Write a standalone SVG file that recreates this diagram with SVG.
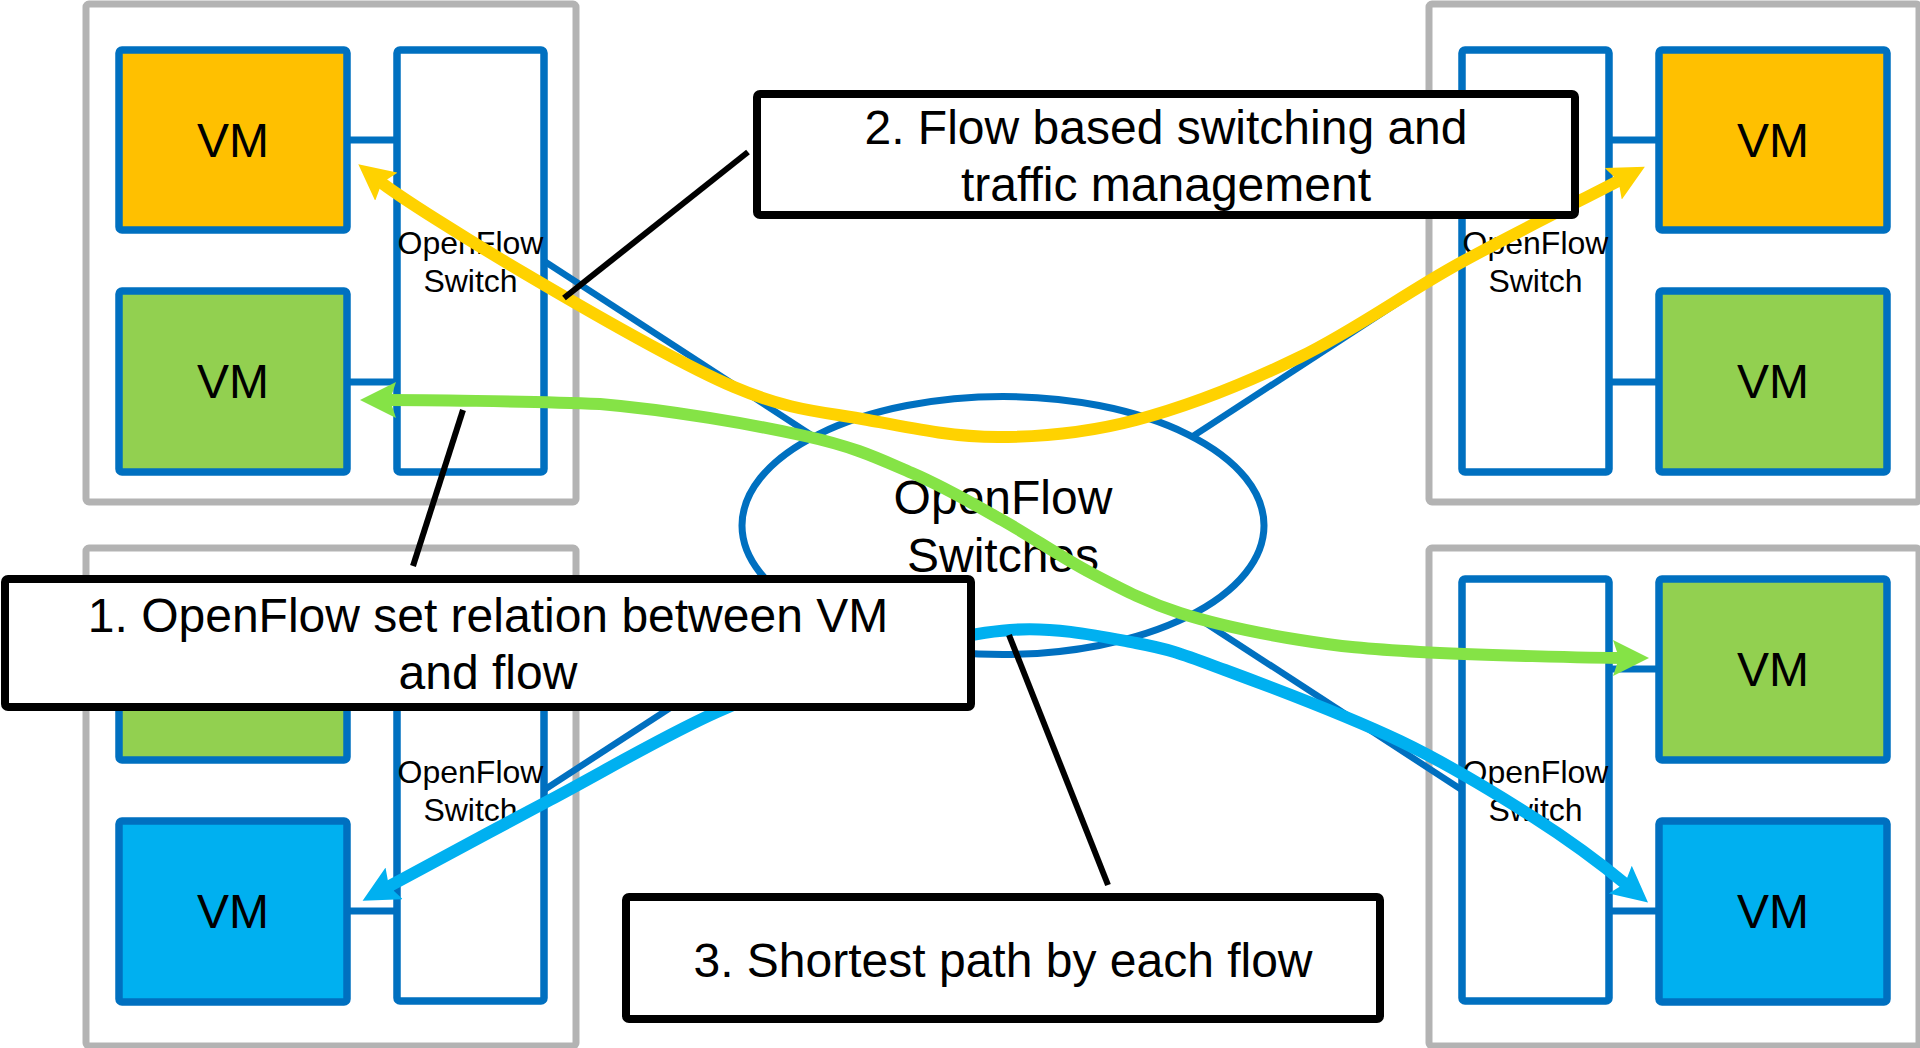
<svg xmlns="http://www.w3.org/2000/svg" width="1920" height="1048" viewBox="0 0 1920 1048">
  <style>
    .host { fill: #ffffff; stroke: #b3b3b3; stroke-width: 7; }
    .vm { stroke: #0070c0; stroke-width: 7.5; }
    .vm-orange { fill: #ffc000; }
    .vm-green { fill: #92d050; }
    .vm-blue { fill: #00b0f0; }
    .switch { fill: #ffffff; stroke: #0070c0; stroke-width: 7.5; }
    .link { stroke: #0070c0; stroke-width: 7; fill: none; }
    .trunk { stroke: #0070c0; stroke-width: 6.5; fill: none; }
    .cloud { fill: #ffffff; stroke: #0070c0; stroke-width: 7; }
    .flow { fill: none; stroke-width: 12; }
    .leader { stroke: #000000; stroke-width: 6; fill: none; }
    .callout { fill: #ffffff; stroke: #000000; stroke-width: 8; }
    text { font-family: "Liberation Sans", Arial, sans-serif; fill: #000000; text-anchor: middle; }
    .vm-label { font-size: 48px; }
    .sw-label { font-size: 32px; }
    .big { font-size: 48px; }
  </style>
  <defs>
    <marker id="head-yellow" viewBox="0 0 36 36" markerWidth="36" markerHeight="36" refX="10" refY="18" orient="auto-start-reverse" markerUnits="userSpaceOnUse">
      <path d="M0,0 L36,18 L0,36 L6,18 Z" fill="#ffd200"/>
    </marker>
    <marker id="head-green" viewBox="0 0 36 36" markerWidth="36" markerHeight="36" refX="10" refY="18" orient="auto-start-reverse" markerUnits="userSpaceOnUse">
      <path d="M0,0 L36,18 L0,36 L6,18 Z" fill="#85e346"/>
    </marker>
    <marker id="head-cyan" viewBox="0 0 36 36" markerWidth="36" markerHeight="36" refX="10" refY="18" orient="auto-start-reverse" markerUnits="userSpaceOnUse">
      <path d="M0,0 L36,18 L0,36 L6,18 Z" fill="#00b0f0"/>
    </marker>
  </defs>

  <rect width="1920" height="1048" fill="#ffffff"/>

  <!-- Host, top left -->
  <g id="host-top-left">
    <rect class="host" x="86" y="4" width="490" height="498" rx="3"/>
    <line class="link" x1="347" y1="140" x2="397" y2="140"/>
    <line class="link" x1="347" y1="382" x2="397" y2="382"/>
    <g id="vm-tl-1"><rect class="vm vm-orange" x="119" y="50" width="228" height="180" rx="3"/><text class="vm-label" x="233" y="157">VM</text></g>
    <g id="vm-tl-2"><rect class="vm vm-green" x="119" y="291" width="228" height="181" rx="3"/><text class="vm-label" x="233" y="398">VM</text></g>
    <g id="switch-tl"><rect class="switch" x="397" y="50" width="147" height="422" rx="3"/><text class="sw-label" x="470.5" y="254">OpenFlow</text><text class="sw-label" x="470.5" y="292">Switch</text></g>
  </g>

  <!-- Host, top right -->
  <g id="host-top-right">
    <rect class="host" x="1429" y="4" width="490" height="498" rx="3"/>
    <line class="link" x1="1609" y1="140" x2="1659" y2="140"/>
    <line class="link" x1="1609" y1="382" x2="1659" y2="382"/>
    <g id="switch-tr"><rect class="switch" x="1462" y="50" width="147" height="422" rx="3"/><text class="sw-label" x="1535.5" y="254">OpenFlow</text><text class="sw-label" x="1535.5" y="292">Switch</text></g>
    <g id="vm-tr-1"><rect class="vm vm-orange" x="1659" y="50" width="228" height="180" rx="3"/><text class="vm-label" x="1773" y="157">VM</text></g>
    <g id="vm-tr-2"><rect class="vm vm-green" x="1659" y="291" width="228" height="181" rx="3"/><text class="vm-label" x="1773" y="398">VM</text></g>
  </g>

  <!-- Host, bottom left -->
  <g id="host-bottom-left">
    <rect class="host" x="86" y="548" width="490" height="498" rx="3"/>
    <line class="link" x1="347" y1="669" x2="397" y2="669"/>
    <line class="link" x1="347" y1="911" x2="397" y2="911"/>
    <g id="vm-bl-1"><rect class="vm vm-green" x="119" y="579" width="228" height="181" rx="3"/><text class="vm-label" x="233" y="686">VM</text></g>
    <g id="vm-bl-2"><rect class="vm vm-blue" x="119" y="821" width="228" height="181" rx="3"/><text class="vm-label" x="233" y="928">VM</text></g>
    <g id="switch-bl"><rect class="switch" x="397" y="579" width="147" height="422" rx="3"/><text class="sw-label" x="470.5" y="783">OpenFlow</text><text class="sw-label" x="470.5" y="821">Switch</text></g>
  </g>

  <!-- Host, bottom right -->
  <g id="host-bottom-right">
    <rect class="host" x="1429" y="548" width="490" height="498" rx="3"/>
    <line class="link" x1="1609" y1="669" x2="1659" y2="669"/>
    <line class="link" x1="1609" y1="911" x2="1659" y2="911"/>
    <g id="switch-br"><rect class="switch" x="1462" y="579" width="147" height="422" rx="3"/><text class="sw-label" x="1535.5" y="783">OpenFlow</text><text class="sw-label" x="1535.5" y="821">Switch</text></g>
    <g id="vm-br-1"><rect class="vm vm-green" x="1659" y="579" width="228" height="181" rx="3"/><text class="vm-label" x="1773" y="686">VM</text></g>
    <g id="vm-br-2"><rect class="vm vm-blue" x="1659" y="821" width="228" height="181" rx="3"/><text class="vm-label" x="1773" y="928">VM</text></g>
  </g>

  <!-- Trunks from each edge switch into the switch fabric -->
  <g id="connectors">
    <line class="trunk" x1="544" y1="261" x2="822" y2="442"/>
    <line class="trunk" x1="1462" y1="261" x2="1184" y2="442"/>
    <line class="trunk" x1="544" y1="790" x2="822" y2="609"/>
    <line class="trunk" x1="1462" y1="790" x2="1184" y2="609"/>
  </g>

  <!-- Switch fabric -->
  <g id="fabric">
    <ellipse class="cloud" cx="1003" cy="525.5" rx="261" ry="129"/>
    <text class="big" x="1003" y="514">OpenFlow</text>
    <text class="big" x="1003" y="572">Switches</text>
  </g>

  <!-- Flows between VM pairs -->
  <g id="flows">
    <path id="flow-orange" class="flow" stroke="#ffd200" marker-start="url(#head-yellow)" marker-end="url(#head-yellow)"
      d="M378.6,180.5 C398,196 464.7,238 524,273 C583.3,308 676.7,362.5 734,387 C791.3,411.5 824,411.7 868,420 C912,428.3 953.3,437 998,437 C1042.7,437 1085.7,433.3 1136,420 C1186.3,406.7 1246,383.2 1300,357 C1354,330.8 1405.7,292.8 1460,263 C1513.7,233.3 1600,190.9 1622,179"/>
    <path id="flow-green" class="flow" stroke="#85e346" marker-start="url(#head-green)" marker-end="url(#head-green)"
      d="M386,400 C411,400 530,401 600,404 C669.8,410 753,424.5 805,436 C857,447.5 879.2,459 912,473 C944.8,487 972.2,503.3 1002,520 C1031.8,536.7 1061.3,557.5 1091,573 C1120.7,588.5 1145.2,601.8 1180,613 C1214.8,624.2 1260,633.5 1300,640 C1340,646.5 1366.2,649 1420,652 C1473.8,655 1598,658 1623,658"/>
    <path id="flow-blue" class="flow" stroke="#00b0f0" marker-start="url(#head-cyan)" marker-end="url(#head-cyan)"
      d="M385.4,888.2 C407.3,876.2 494.7,829.4 550,800 C605.3,770.6 665.3,735 717,712 C768.7,689 811.2,675.7 860,662 C908.8,648.3 964,633.5 1010,630 C1056,626.5 1100.2,636.3 1136,643 C1171.8,649.7 1181,653.7 1225,670 C1269,686.3 1348.7,716.5 1400,741 C1451.3,765.5 1495,792.8 1533,817 C1571,841.2 1608.7,870 1628,886"/>
  </g>

  <!-- Callout leaders -->
  <g id="leaders">
    <line class="leader" x1="413" y1="566" x2="463" y2="410"/>
    <line class="leader" x1="748" y1="152" x2="564" y2="298"/>
    <line class="leader" x1="1108" y1="885" x2="1009" y2="635"/>
  </g>

  <!-- Callouts -->
  <g id="callout-1">
    <rect class="callout" x="5" y="579" width="966" height="128" rx="3"/>
    <text class="big" x="488" y="632">1. OpenFlow set relation between VM</text>
    <text class="big" x="488" y="689">and flow</text>
  </g>
  <g id="callout-2">
    <rect class="callout" x="757" y="94" width="818" height="121" rx="3"/>
    <text class="big" x="1166" y="144">2. Flow based switching and</text>
    <text class="big" x="1166" y="201">traffic management</text>
  </g>
  <g id="callout-3">
    <rect class="callout" x="626" y="897" width="754" height="122" rx="3"/>
    <text class="big" x="1003" y="977">3. Shortest path by each flow</text>
  </g>
</svg>
